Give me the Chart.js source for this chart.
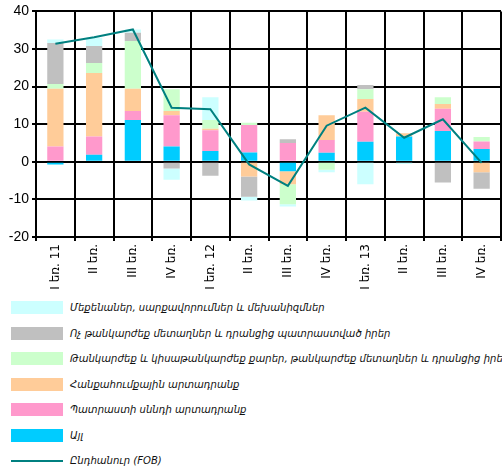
<!doctype html>
<html lang="hy">
<head>
<meta charset="utf-8">
<title>Արտահանում</title>
<script src="https://cdn.jsdelivr.net/npm/chart.js@4.4.1/dist/chart.umd.min.js"></script>
<style>
  html, body { margin: 0; padding: 0; background: #fff; }
  body { width: 502px; height: 470px; overflow: hidden; position: relative; }
  #wrap { position: relative; width: 502px; height: 295px; }
  #legend { list-style: none; margin: 0; padding: 0; position: absolute; left: 0; top: 295px; width: 502px; }
  #legend li { height: 25.5px; display: flex; align-items: center; white-space: nowrap;
    font-family: "DejaVu Sans Condensed", "DejaVu Sans", sans-serif; font-stretch: condensed;
    font-style: italic; font-size: 11.2px; color: #111; }
  #legend .sw { display: inline-block; width: 52px; height: 13px; margin-left: 11px; margin-right: 7px; flex: none; }
  #legend .ln { display: inline-block; width: 52px; height: 2px; margin-left: 11px; margin-right: 7px; flex: none; }
</style>
</head>
<body>
<div id="wrap"><canvas id="chart"></canvas></div>
<ul id="legend"></ul>
<script>
// quarters, 2011-2013
var categories = ["I եռ. 11", "II եռ.", "III եռ.", "IV եռ.",
                  "I եռ. 12", "II եռ.", "III եռ.", "IV եռ.",
                  "I եռ. 13", "II եռ.", "III եռ.", "IV եռ."];

// contributions by commodity group, stacked bottom-up in this order
var other      = [-0.7, 1.9, 11.1, 4.1, 2.9, 2.5, -2.5, 2.4, 5.3, 6.7, 8.2, 3.4];
var finished   = [4.1, 4.8, 2.4, 8.3, 5.5, 7.3, 5.0, 3.4, 8.0, 0, 5.9, 2.0];
var mineral    = [15.3, 16.9, 5.9, 1.1, 0.4, -3.9, -3.5, 6.6, 3.4, 0.9, 1.3, -2.8];
var precious   = [1.3, 2.7, 12.7, 5.8, 2.3, 0.6, -5.3, -2.1, 2.6, 0, 1.8, 1.2];
var baseMetals = [10.9, 4.5, 2.2, -1.8, -3.7, -5.4, 1.0, 0, 1.1, 0, -5.5, -4.4];
var machinery  = [0.9, 2.2, 0.9, -3.0, 6.1, -1.0, -0.6, -0.7, -6.0, -0.6, 0, 0];

// total growth, FOB
var total = [31.4, 33.1, 35.2, 14.4, 14.0, -0.7, -6.4, 9.6, 14.4, 6.4, 11.3, -0.3];

var yTicks = { min: -20, max: 40, step: 10 };

var names = {
  machinery: "Մեքենաներ, սարքավորումներ և մեխանիզմներ",
  baseMetals: "Ոչ թանկարժեք մետաղներ և դրանցից պատրաստված իրեր",
  precious: "Թանկարժեք և կիսաթանկարժեք քարեր, թանկարժեք մետաղներ և դրանցից իրեր",
  mineral: "Հանքահումքային արտադրանք",
  finished: "Պատրաստի սննդի արտադրանք",
  other: "Այլ",
  total: "Ընդհանուր (FOB)"
};

function bar(label, data, colour) {
  return {
    type: "bar", label: label, data: data, backgroundColor: colour,
    stack: "goods", borderWidth: 0, barPercentage: 0.42, categoryPercentage: 1.0, order: 1
  };
}

var datasets = [
  {
    type: "line", label: names.total, data: total, stack: "total",
    borderColor: "#008080", borderWidth: 2, pointRadius: 0, tension: 0, fill: false, order: 0
  },
  bar(names.other, other, "#00CCFF"),
  bar(names.finished, finished, "#FF99CC"),
  bar(names.mineral, mineral, "#FFCC99"),
  bar(names.precious, precious, "#CCFFCC"),
  bar(names.baseMetals, baseMetals, "#C0C0C0"),
  bar(names.machinery, machinery, "#CCFFFF")
];

var ctx = document.getElementById("chart").getContext("2d");
var chart = new Chart(ctx, {
  type: "bar",
  data: { labels: categories, datasets: datasets },
  options: {
    responsive: true,
    maintainAspectRatio: false,
    animation: false,
    layout: { padding: { top: 11, right: 1, left: 0, bottom: 0 } },
    plugins: { legend: { display: false }, tooltip: { enabled: false } },
    scales: {
      x: {
        stacked: true,
        afterFit: function (s) { s.height = 58; },
        grid: { color: "#000", lineWidth: 2, tickLength: 4, offset: true },
        border: { color: "#000", width: 2 },
        ticks: {
          color: "#000", minRotation: 90, maxRotation: 90, padding: 3,
          font: { family: "'DejaVu Sans', sans-serif", size: 12 }
        }
      },
      y: {
        stacked: true,
        min: yTicks.min, max: yTicks.max,
        afterFit: function (s) { s.width = 36; },
        grid: { color: "#000", lineWidth: 2, tickLength: 4 },
        border: { color: "#000", width: 2 },
        ticks: {
          stepSize: yTicks.step, color: "#000", padding: 3,
          font: { family: "'Liberation Sans', Arial, sans-serif", size: 14 }
        }
      }
    }
  }
});

// legend below the chart, one entry per row: bars top-down, then the line
var legend = document.getElementById("legend");
var rows = chart.data.datasets.slice(1).reverse().concat([chart.data.datasets[0]]);
rows.forEach(function (ds) {
  var li = document.createElement("li");
  var mark = document.createElement("span");
  if (ds.type === "line") {
    mark.className = "ln";
    mark.style.background = ds.borderColor;
  } else {
    mark.className = "sw";
    mark.style.background = ds.backgroundColor;
  }
  li.appendChild(mark);
  li.appendChild(document.createTextNode(ds.label));
  legend.appendChild(li);
});
</script>
</body>
</html>
